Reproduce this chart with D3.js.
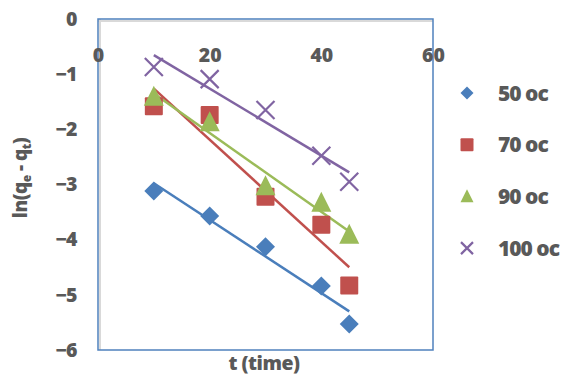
<!DOCTYPE html>
<html><head><meta charset="utf-8">
<script src="https://cdn.jsdelivr.net/npm/d3@7"></script>
<style>body{margin:0;background:#fff}svg text{font-family:"Open Sans",Lato,sans-serif;font-weight:800;fill:#595959}</style>
</head><body><svg id="c" width="568" height="376"></svg>
<script>
const times = [10, 20, 30, 40, 45];
const s50 = [-3.12, -3.57, -4.13, -4.84, -5.53];
const s70 = [-1.58, -1.74, -3.22, -3.73, -4.83];
const s90 = [-1.41, -1.87, -3.03, -3.33, -3.91];
const s100 = [-0.87, -1.09, -1.65, -2.48, -2.95];
const seriesNames = ["50 oc", "70 oc", "90 oc", "100 oc"];
const xTicks = [0, 20, 40, 60];
const yTicks = [0, -1, -2, -3, -4, -5, -6];

const series = [
  {name: seriesNames[0], vals: s50, color: "#4a7ebb", sym: "diamond"},
  {name: seriesNames[1], vals: s70, color: "#c0504d", sym: "square"},
  {name: seriesNames[2], vals: s90, color: "#9bbb59", sym: "triangle"},
  {name: seriesNames[3], vals: s100, color: "#8064a2", sym: "cross"}
];

const FONT = '"Open Sans", Lato, sans-serif';
const svg = d3.select("#c");
const L = 98, R = 433, T = 19, B = 350;
const x = d3.scaleLinear().domain([0, 60]).range([L, R]);
const y = d3.scaleLinear().domain([0, -6]).range([T, B]);

// plot frame
svg.append("line").attr("x1", L + 2).attr("x2", L + 2).attr("y1", T).attr("y2", B).attr("stroke", "#d9d9d9").attr("stroke-width", 2);
svg.append("line").attr("x1", L).attr("x2", R).attr("y1", T + 2).attr("y2", T + 2).attr("stroke", "#d9d9d9").attr("stroke-width", 2);
svg.append("rect").attr("x", L).attr("y", T).attr("width", R - L).attr("height", B - T)
  .attr("fill", "none").attr("stroke", "#4f81bd").attr("stroke-width", 1.5);

// y axis labels
const yAx = svg.append("g").attr("transform", `translate(${L - 21},0)`)
  .call(d3.axisLeft(y).tickValues(yTicks).tickSize(0).tickFormat(d3.format("d")));
yAx.select(".domain").remove();
yAx.selectAll("text").attr("font-size", 19.5).attr("x", 0).attr("letter-spacing", -0.5)
  .style("font-family", FONT).style("font-weight", 800).attr("fill", "#595959");

// x axis labels (below the top axis line)
const xAx = svg.append("g").attr("transform", `translate(0,${T + 29})`)
  .call(d3.axisBottom(x).tickValues(xTicks).tickSize(0).tickFormat(d3.format("d")));
xAx.select(".domain").remove();
xAx.selectAll("text").attr("font-size", 19.5).attr("y", 0).attr("dy", "0.72em")
  .style("font-family", FONT).style("font-weight", 800).attr("fill", "#595959");

// trendlines (least squares)
function fit(xs, ys) {
  const mx = d3.mean(xs), my = d3.mean(ys);
  let sxy = 0, sxx = 0;
  xs.forEach((v, i) => { sxy += (v - mx) * (ys[i] - my); sxx += (v - mx) * (v - mx); });
  const b = sxy / sxx;
  return t => my + b * (t - mx);
}
const x0 = d3.min(times), x1 = d3.max(times);
series.forEach(s => {
  const f = fit(times, s.vals);
  svg.append("line").attr("x1", x(x0)).attr("y1", y(f(x0))).attr("x2", x(x1)).attr("y2", y(f(x1)))
    .attr("stroke", s.color).attr("stroke-width", 2.5);
});

// markers
function marker(g, sym, color, size) {
  if (sym === "diamond") {
    const h = size / 2;
    g.append("path").attr("d", `M0,${-h}L${h},0L0,${h}L${-h},0Z`).attr("fill", color);
  } else if (sym === "square") {
    const h = size * 0.5;
    g.append("rect").attr("x", -h).attr("y", -h).attr("width", 2 * h).attr("height", 2 * h).attr("fill", color).attr("rx", 1);
  } else if (sym === "triangle") {
    const h = size / 2;
    g.append("path").attr("d", `M0,${-h * 1.1}L${h},${h * 0.9}L${-h},${h * 0.9}Z`).attr("fill", color);
  } else {
    const h = size / 2;
    g.append("path").attr("d", `M${-h},${-h}L${h},${h}M${-h},${h}L${h},${-h}`).attr("stroke", color).attr("stroke-width", 2.2).attr("fill", "none");
  }
}
series.forEach(s => {
  s.vals.forEach((v, i) => {
    const g = svg.append("g").attr("transform", `translate(${x(times[i])},${y(v)})`);
    marker(g, s.sym, s.color, s.sym === "diamond" ? 19 : (s.sym === "square" ? 18 : (s.sym === "triangle" ? 20 : 18)));
  });
});

// legend
series.forEach((s, i) => {
  const yy = 93 + i * 51.7;
  const g = svg.append("g").attr("transform", `translate(467,${yy})`);
  marker(g, s.sym, s.color, s.sym === "cross" ? 12 : 13);
  svg.append("text").attr("x", 498).attr("y", yy).attr("dy", "0.36em").attr("font-size", 21)
    .attr("letter-spacing", -1).text(s.name);
});

// axis titles
svg.append("text").attr("x", 264).attr("y", 363).attr("dy", "0.35em").attr("text-anchor", "middle").attr("font-size", 19.5).attr("letter-spacing", -0.5).text("t (time)");
const yt = svg.append("text").attr("transform", "translate(20,178) rotate(-90)").attr("text-anchor", "middle").attr("dy", "0.35em").attr("font-size", 19).attr("letter-spacing", -0.5);
yt.append("tspan").text("ln(q");
yt.append("tspan").attr("font-size", 12).attr("dy", 4).text("e");
yt.append("tspan").attr("dy", -4).text(" - q");
yt.append("tspan").attr("font-size", 12).attr("dy", 4).text("t");
yt.append("tspan").attr("dy", -4).text(")");
</script></body></html>
